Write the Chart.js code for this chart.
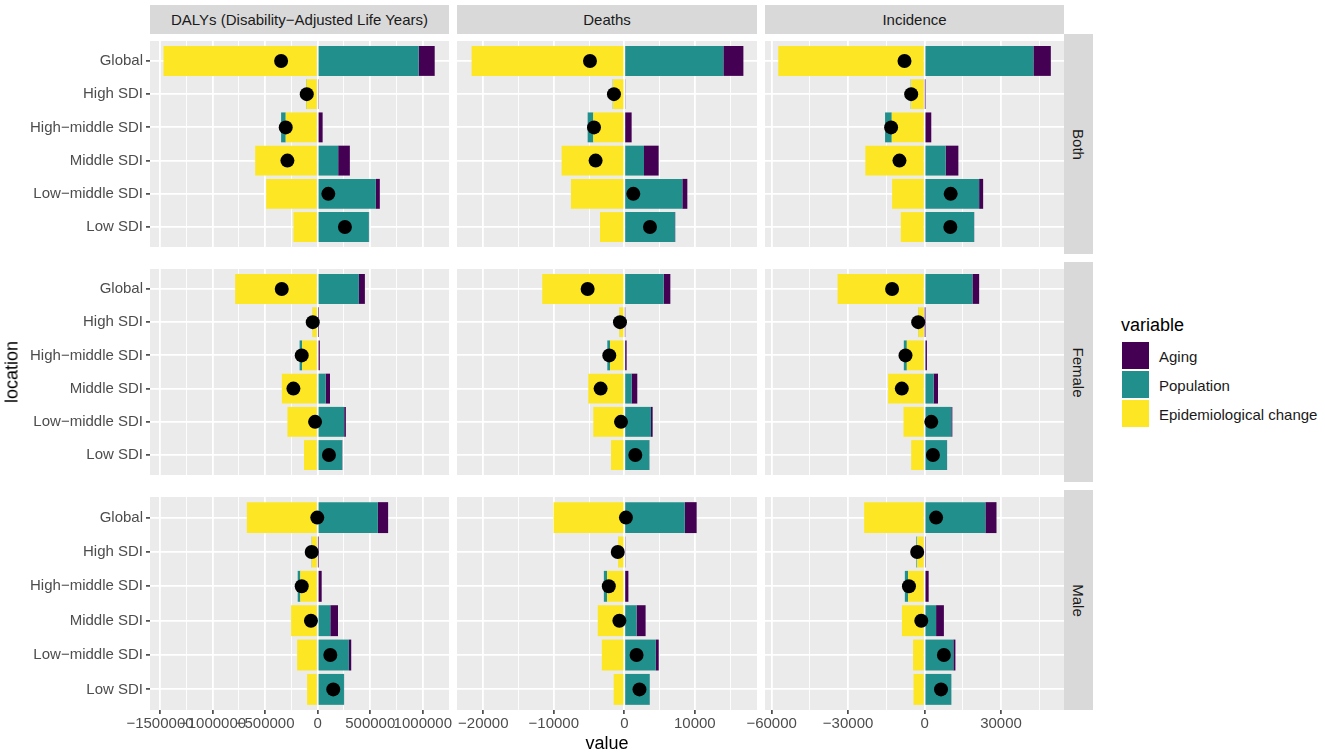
<!DOCTYPE html>
<html>
<head>
<meta charset="utf-8">
<script src="https://cdn.jsdelivr.net/npm/chart.js@4.4.1/dist/chart.umd.min.js"></script>
<style>
  body { margin: 0; background: #fff; font-family: "Liberation Sans", Arial, sans-serif; }
  #wrap { position: relative; width: 1325px; height: 755px; overflow: hidden; }
  .strip { position: absolute; background: #D9D9D9; color: #1A1A1A; font-size: 15px;
           display: flex; align-items: center; justify-content: center; white-space: nowrap; }
  .rstrip span { transform: rotate(90deg); }
  .title { position: absolute; color: #000; font-size: 18px; white-space: nowrap; }
  .key { position: absolute; left: 1122px; width: 27px; height: 27px; }
  .keytxt { position: absolute; left: 1159px; font-size: 15px; color: #1A1A1A; white-space: nowrap; }
</style>
</head>
<body>
<div id="wrap"></div>
<script>
const locations = ['Global', 'High SDI', 'High\u2212middle SDI', 'Middle SDI', 'Low\u2212middle SDI', 'Low SDI'];
const measures = ['DALYs (Disability\u2212Adjusted Life Years)', 'Deaths', 'Incidence'];
const sexes = ['Both', 'Female', 'Male'];
const variables = ['Aging', 'Population', 'Epidemiological change'];

// DALYs
const dalysBothAging = [152000, 6000, 47000, 111000, 38000, 2000];
const dalysBothPop = [961000, -4000, -44000, 195000, 553000, 487000];
const dalysBothEpi = [-1467000, -107000, -304000, -595000, -490000, -231000];
const dalysBothTotal = [-348000, -104000, -304000, -288000, 101000, 259000];

const dalysFemaleAging = [57000, 3000, 20000, 41000, 16000, 2000];
const dalysFemalePop = [392000, -1000, -24000, 76000, 252000, 233000];
const dalysFemaleEpi = [-785000, -50000, -148000, -341000, -288000, -130000];
const dalysFemaleTotal = [-342000, -47000, -152000, -231000, -25000, 107000];

const dalysMaleAging = [98000, 2000, 38000, 73000, 22000, 1000];
const dalysMalePop = [572000, -2000, -25000, 120000, 297000, 250000];
const dalysMaleEpi = [-674000, -57000, -165000, -253000, -196000, -101000];
const dalysMaleTotal = [-4000, -57000, -152000, -64000, 120000, 148000];

// Deaths
const deathsBothAging = [2840, 150, 1040, 2080, 710, 30];
const deathsBothPop = [14050, -30, -800, 2790, 8230, 7190];
const deathsBothEpi = [-21660, -1600, -4400, -8890, -7570, -3450];
const deathsBothTotal = [-4870, -1470, -4300, -4070, 1280, 3640];

const deathsFemaleAging = [950, 80, 330, 800, 240, 20];
const deathsFemalePop = [5580, -20, -380, 1040, 3780, 3550];
const deathsFemaleEpi = [-11640, -700, -2030, -5110, -4400, -1890];
const deathsFemaleTotal = [-5200, -615, -2130, -3360, -470, 1560];

const deathsMaleAging = [1680, 100, 580, 1280, 410, 20];
const deathsMalePop = [8580, -20, -460, 1740, 4470, 3600];
const deathsMaleEpi = [-10030, -870, -2440, -3770, -3190, -1510];
const deathsMaleTotal = [230, -930, -2200, -700, 1740, 2150];

// Incidence
const incBothAging = [6830, 100, 2630, 4990, 1580, 50];
const incBothPop = [42700, -100, -2630, 8270, 21400, 19430];
const incBothEpi = [-57400, -5300, -12870, -23240, -12740, -9320];
const incBothTotal = [-7880, -5250, -13130, -9850, 10240, 10110];

const incFemaleAging = [2630, 50, 920, 1710, 390, 30];
const incFemalePop = [18780, -100, -1180, 3550, 10500, 8800];
const incFemaleEpi = [-34140, -2400, -6960, -14310, -8270, -5250];
const incFemaleTotal = [-12740, -2500, -7480, -8930, 2630, 3280];

const incMaleAging = [4350, 200, 1610, 3060, 810, 40];
const incMalePop = [23870, -300, -1290, 4520, 11290, 10480];
const incMaleEpi = [-23710, -2900, -6450, -8870, -4520, -4350];
const incMaleTotal = [4520, -2900, -6130, -1290, 7580, 6450];

// x tick breaks per measure column
const dalysTicks = [-1500000, -1000000, -500000, 0, 500000, 1000000];
const deathsTicks = [-20000, -10000, 0, 10000];
const incTicks = [-60000, -30000, 0, 30000];
const tickSets = [dalysTicks, deathsTicks, incTicks];
const xMin = [-1595000, -23730, -62600];
const xMax = [1249000, 18820, 54700];

const grid = [
  [
    [dalysBothAging, dalysBothPop, dalysBothEpi, dalysBothTotal],
    [deathsBothAging, deathsBothPop, deathsBothEpi, deathsBothTotal],
    [incBothAging, incBothPop, incBothEpi, incBothTotal]
  ],
  [
    [dalysFemaleAging, dalysFemalePop, dalysFemaleEpi, dalysFemaleTotal],
    [deathsFemaleAging, deathsFemalePop, deathsFemaleEpi, deathsFemaleTotal],
    [incFemaleAging, incFemalePop, incFemaleEpi, incFemaleTotal]
  ],
  [
    [dalysMaleAging, dalysMalePop, dalysMaleEpi, dalysMaleTotal],
    [deathsMaleAging, deathsMalePop, deathsMaleEpi, deathsMaleTotal],
    [incMaleAging, incMalePop, incMaleEpi, incMaleTotal]
  ]
];

const colors = { aging: '#440154', pop: '#21908C', epi: '#FDE725' };

const colLeft = [150, 457, 765];
const colW = [299, 300, 299];
const rowTop = [34, 262, 490];
const rowH = 220;

Chart.defaults.font.family = '"Liberation Sans", Arial, sans-serif';

const wrap = document.getElementById('wrap');

const panelBg = {
  id: 'panelBg',
  beforeDraw(chart) {
    const a = chart.chartArea;
    const c = chart.ctx;
    c.save();
    c.fillStyle = '#EBEBEB';
    c.fillRect(a.left, a.top, a.right - a.left, a.bottom - a.top);
    c.restore();
  }
};

function toPoints(arr) {
  return arr.map((v, i) => ({ x: v, y: i }));
}

function fmt(v) {
  return v < 0 ? '\u2212' + Math.abs(v) : String(v);
}

function makePanel(r, c) {
  const [aging, pop, epi, total] = grid[r][c];
  const majors = tickSets[c];
  const half = (majors[1] - majors[0]) / 2;
  const minors = [majors[0] - half].concat(majors.map(v => v + half))
    .filter(v => v > xMin[c] && v < xMax[c]);
  const allTicks = majors.concat(minors).sort((a, b) => a - b);
  const isMajor = v => majors.includes(v);

  const yAxisW = c === 0 ? 150 : 0;
  const padL = c === 0 ? 0 : 45;
  const padR = 45;
  const xAxisH = r === 2 ? 34 : 0;
  const w = padL + yAxisW + colW[c] + padR;
  const h = rowH + xAxisH;

  const canvas = document.createElement('canvas');
  canvas.width = w;
  canvas.height = h;
  canvas.style.cssText = `position:absolute;left:${colLeft[c] - yAxisW - padL}px;top:${rowTop[r]}px;width:${w}px;height:${h}px;`;
  wrap.appendChild(canvas);

  new Chart(canvas, {
    type: 'bar',
    data: {
      datasets: [
        { type: 'scatter', label: 'total', data: toPoints(total), backgroundColor: '#000', borderWidth: 0,
          pointRadius: 7, pointHoverRadius: 7, order: -1, stack: 'pts' },
        { label: variables[2], data: toPoints(epi), backgroundColor: colors.epi },
        { label: variables[1], data: toPoints(pop), backgroundColor: colors.pop },
        { label: variables[0], data: toPoints(aging), backgroundColor: colors.aging }
      ]
    },
    options: {
      indexAxis: 'y',
      responsive: false,
      animation: false,
      devicePixelRatio: 1,
      layout: { padding: { left: padL, right: padR, top: 0, bottom: 0 } },
      datasets: {
        bar: { barPercentage: 0.9, categoryPercentage: 1, borderWidth: 0 }
      },
      plugins: { legend: { display: false }, tooltip: { enabled: false } },
      scales: {
        x: {
          type: 'linear', min: xMin[c], max: xMax[c], stacked: true, offset: false,
          afterBuildTicks: s => { s.ticks = allTicks.map(v => ({ value: v })); },
          afterFit: s => { s.height = xAxisH; s.paddingLeft = 0; s.paddingRight = 0; },
          border: { display: false },
          grid: {
            offset: false,
            color: '#fff',
            lineWidth: ctx => (ctx.tick && isMajor(ctx.tick.value)) ? 1.8 : 0.9,
            drawTicks: r === 2, tickLength: 4, tickWidth: 1.5,
            tickColor: ctx => (ctx.tick && isMajor(ctx.tick.value)) ? '#333333' : 'rgba(0,0,0,0)'
          },
          ticks: {
            display: r === 2, autoSkip: false, maxRotation: 0, minRotation: 0, padding: 1,
            color: '#4D4D4D', font: { size: 15 },
            callback: v => isMajor(v) ? fmt(v) : ''
          }
        },
        y: {
          type: 'linear', min: -0.6, max: 5.6, reverse: true, stacked: true, offset: false,
          afterBuildTicks: s => { s.ticks = locations.map((_, i) => ({ value: i })); },
          afterFit: s => { s.width = yAxisW; s.paddingTop = 0; s.paddingBottom = 0; },
          border: { display: false },
          grid: { offset: false, color: '#fff', lineWidth: 1.8, drawTicks: c === 0,
                  tickLength: 4, tickWidth: 1.5, tickColor: '#333333' },
          ticks: {
            display: c === 0, autoSkip: false, padding: 3,
            color: '#4D4D4D', font: { size: 15 },
            callback: v => locations[v] !== undefined ? locations[v] : ''
          }
        }
      }
    },
    plugins: [panelBg]
  });
}

function addDiv(cls, css, text) {
  const d = document.createElement('div');
  d.className = cls;
  d.style.cssText = css;
  if (text !== undefined) d.innerHTML = text;
  wrap.appendChild(d);
  return d;
}

// top strips
measures.forEach((m, c) => {
  addDiv('strip', `left:${colLeft[c]}px;top:5px;width:${colW[c]}px;height:29px;`, `<span>${m}</span>`);
});
// right strips
sexes.forEach((s, r) => {
  addDiv('strip rstrip', `left:1064px;top:${rowTop[r]}px;width:29px;height:${rowH}px;`, `<span>${s}</span>`);
});

for (let r = 0; r < 3; r++) {
  for (let c = 0; c < 3; c++) makePanel(r, c);
}

// axis titles
addDiv('title', 'left:12px;top:372px;transform:translate(-50%,-50%) rotate(-90deg);', 'location');
addDiv('title', 'left:607px;top:743px;transform:translate(-50%,-50%);', 'value');

// legend
addDiv('title', 'left:1121px;top:325px;transform:translateY(-50%);', 'variable');
const keyColors = [colors.aging, colors.pop, colors.epi];
const keyTops = [342, 371, 400];
variables.forEach((v, i) => {
  addDiv('key', `top:${keyTops[i]}px;background:${keyColors[i]};`);
  addDiv('keytxt', `top:${keyTops[i] + 13.5}px;transform:translateY(-50%);`, v);
});
</script>
</body>
</html>
